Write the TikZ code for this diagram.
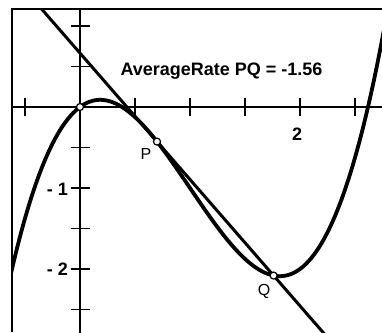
\documentclass[tikz,border=0pt]{standalone}
\usepackage{fontspec}
\setmainfont{Liberation Sans}
\usetikzlibrary{calc}
\begin{document}
\begin{tikzpicture}[x=1pt,y=1pt,
  axis/.style={line width=1.8pt},
  tickmark/.style={line width=1.6pt},
  curve/.style={line width=3.8pt,line join=round},
  secant/.style={line width=3pt},
  frame/.style={line width=2.4pt},
  pt/.style={circle,draw,fill=white,line width=1.2pt,inner sep=0pt,minimum size=7pt},
  num/.style={font=\fontsize{18}{18}\selectfont\bfseries,inner sep=0pt},
  lbl/.style={font=\fontsize{16}{16}\selectfont,inner sep=0pt},
  title/.style={font=\fontsize{18}{18}\selectfont\bfseries,inner sep=0pt}]
\useasboundingbox (0,0) rectangle (382,-332);
\begin{scope}
  \clip (12,-9) rectangle (382,-332);
  \begin{scope}[shift={(80pt,-107pt)},x=110pt,y=81pt]
    \coordinate (O) at (0,0);
    \coordinate (P) at (0.7,-0.427);
    \coordinate (Q) at (1.76,-2.081024);
    \draw[axis] (-1,0) -- (3,0);
    \draw[axis] (0,2) -- (0,-3);
    \foreach \t in {-0.5,0.5,1,1.5,2,2.5}
      \draw[tickmark] (\t,0) ++(0,-9pt) -- ++(0,18pt);
    \foreach \t in {1,0.5,-0.5,-1,-1.5,-2,-2.5}
      \draw[tickmark] (0,\t) ++(-9.5pt,0) -- ++(19pt,0);
    \draw[curve,domain=-0.65:2.8,samples=160,smooth]
      plot (\x,{\x*\x*\x-3*\x*\x+\x});
    \draw[secant] ($(P)!-2!(Q)$) -- ($(Q)!-2!(P)$);
    \node[pt] (o) at (O) {};
    \node[pt] (p) at (P) {};
    \node[pt] (q) at (Q) {};
  \end{scope}
\end{scope}
\draw[frame] (12,-332) -- (12,-8.7) -- (382,-8.7);
\node[title] (ttl) at (221.5,-71.5) {AverageRate PQ = -1.56};
\node[num] (x2) at (297,-134.5) {2};
\node[num] (ym1) at (57.5,-189) {- 1};
\node[num] (ym2) at (57.5,-269) {- 2};
\node[lbl] (lp) at (146,-153.5) {P};
\node[lbl] (lq) at (264,-291) {Q};
\end{tikzpicture}
\end{document}
